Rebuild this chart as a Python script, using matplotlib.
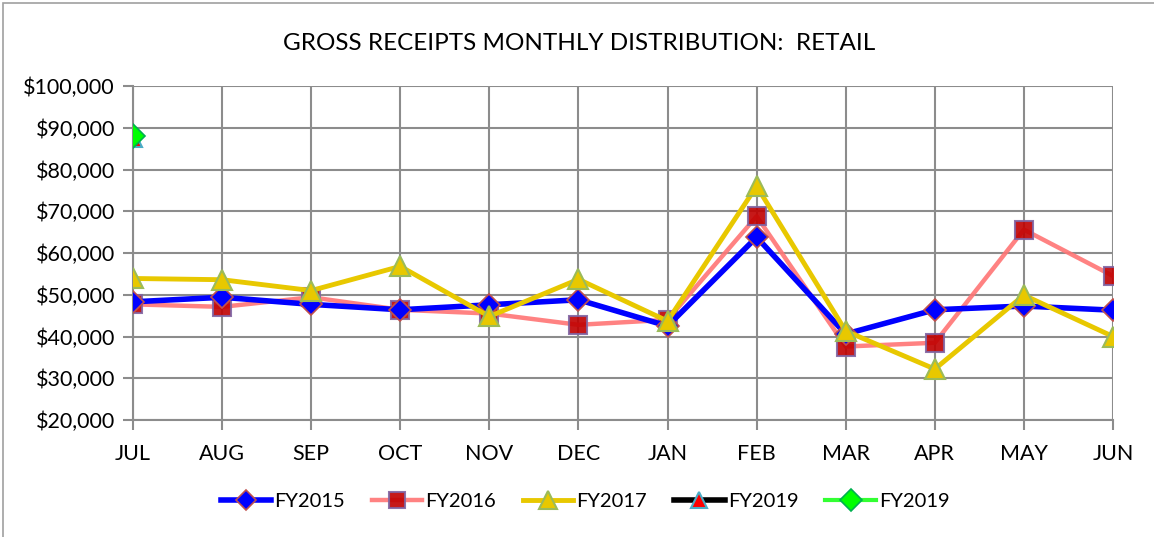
import matplotlib
matplotlib.use("Agg")
import matplotlib.pyplot as plt
import matplotlib.ticker as mtick
from matplotlib.patches import Rectangle

months = ["JUL", "AUG", "SEP", "OCT", "NOV", "DEC", "JAN", "FEB", "MAR", "APR", "MAY", "JUN"]
fy2015 = [48300, 49400, 47700, 46400, 47600, 48800, 42500, 63800, 40600, 46400, 47300, 46300]
fy2016 = [47700, 47100, 49400, 46400, 45500, 42800, 44000, 68800, 37600, 38500, 65600, 54500]
fy2017 = [53900, 53600, 51000, 56800, 44800, 53700, 43700, 76000, 41300, 32200, 49900, 40000]
fy2019a = [87500]
fy2019b = [88000]
title = "GROSS RECEIPTS MONTHLY DISTRIBUTION:  RETAIL"

plt.rcParams['font.family'] = ['Lato', 'DejaVu Sans']

W, H = 1154, 537
fig = plt.figure(figsize=(W / 100, H / 100), dpi=100)
ax = fig.add_axes([133 / W, 1 - 420 / H, (1113 - 133) / W, (420 - 86) / H])

x = list(range(len(months)))

# each fiscal year as its own series
ax.plot(x, fy2015, color='#0000FF', lw=4, marker='D', ms=11.5,
        mfc='#0000FF', mec='#C0504D', mew=1.2, label='FY2015', zorder=4)
ax.plot(x, fy2016, color='#FF7575', lw=3.2, alpha=0.9, marker='s', ms=13,
        mfc='#C00000', mec='#8064A2', mew=1.5, label='FY2016', zorder=3)
ax.plot(x, fy2017, color='#E8C800', lw=3.5, marker='^', ms=15,
        mfc='#E8C800', mec='#9BBB59', mew=1.5, label='FY2017', zorder=5)
ax.plot(x[:len(fy2019a)], fy2019a, color='black', lw=4, marker='^', ms=13,
        mfc='#FF0000', mec='#4BACC6', mew=1.5, label='FY2019', zorder=6)
ax.plot(x[:len(fy2019b)], fy2019b, color='#33FF33', lw=3, marker='D', ms=12,
        mfc='#00FF00', mec='#00B050', mew=1.2, label='FY2019', zorder=7)

ax.set_xlim(0, 11)
ax.set_ylim(20000, 100000)
ax.set_xticks(x)
ax.set_xticklabels(months)
ax.set_yticks(range(20000, 100001, 10000))
ax.yaxis.set_major_formatter(mtick.StrMethodFormatter('${x:,.0f}'))

ax.grid(True, color='#8C8C8C', lw=1.5)
ax.set_axisbelow(True)
for s in ['top', 'right']:
    ax.spines[s].set_visible(False)
for s in ['left', 'bottom']:
    ax.spines[s].set_color('#8C8C8C')
    ax.spines[s].set_linewidth(1.5)
ax.tick_params(length=7, width=1.5, color='#8C8C8C', labelsize=15.5, labelcolor='black')
ax.tick_params(axis='x', pad=10)
ax.tick_params(axis='y', pad=6)

fig.text(579 / W, 1 - 44 / H, title, ha='center', va='center', fontsize=17.5)

handles, labels = ax.get_legend_handles_labels()
fig.legend(handles, labels, loc='center', bbox_to_anchor=(585 / W, 1 - 501 / H), ncol=5,
           frameon=False, fontsize=14.5, handlelength=2.5, handletextpad=0.15,
           columnspacing=1.35, markerscale=0.9)

# outer chart border (cut off on the right and bottom, as in the reference)
fig.patches.append(Rectangle((3 / W, -0.1), 1.2, 1 - 3 / H + 0.1, transform=fig.transFigure,
                             fill=False, edgecolor='#A0A0A0', lw=1.2))

fig.savefig("out.png", dpi=100)
